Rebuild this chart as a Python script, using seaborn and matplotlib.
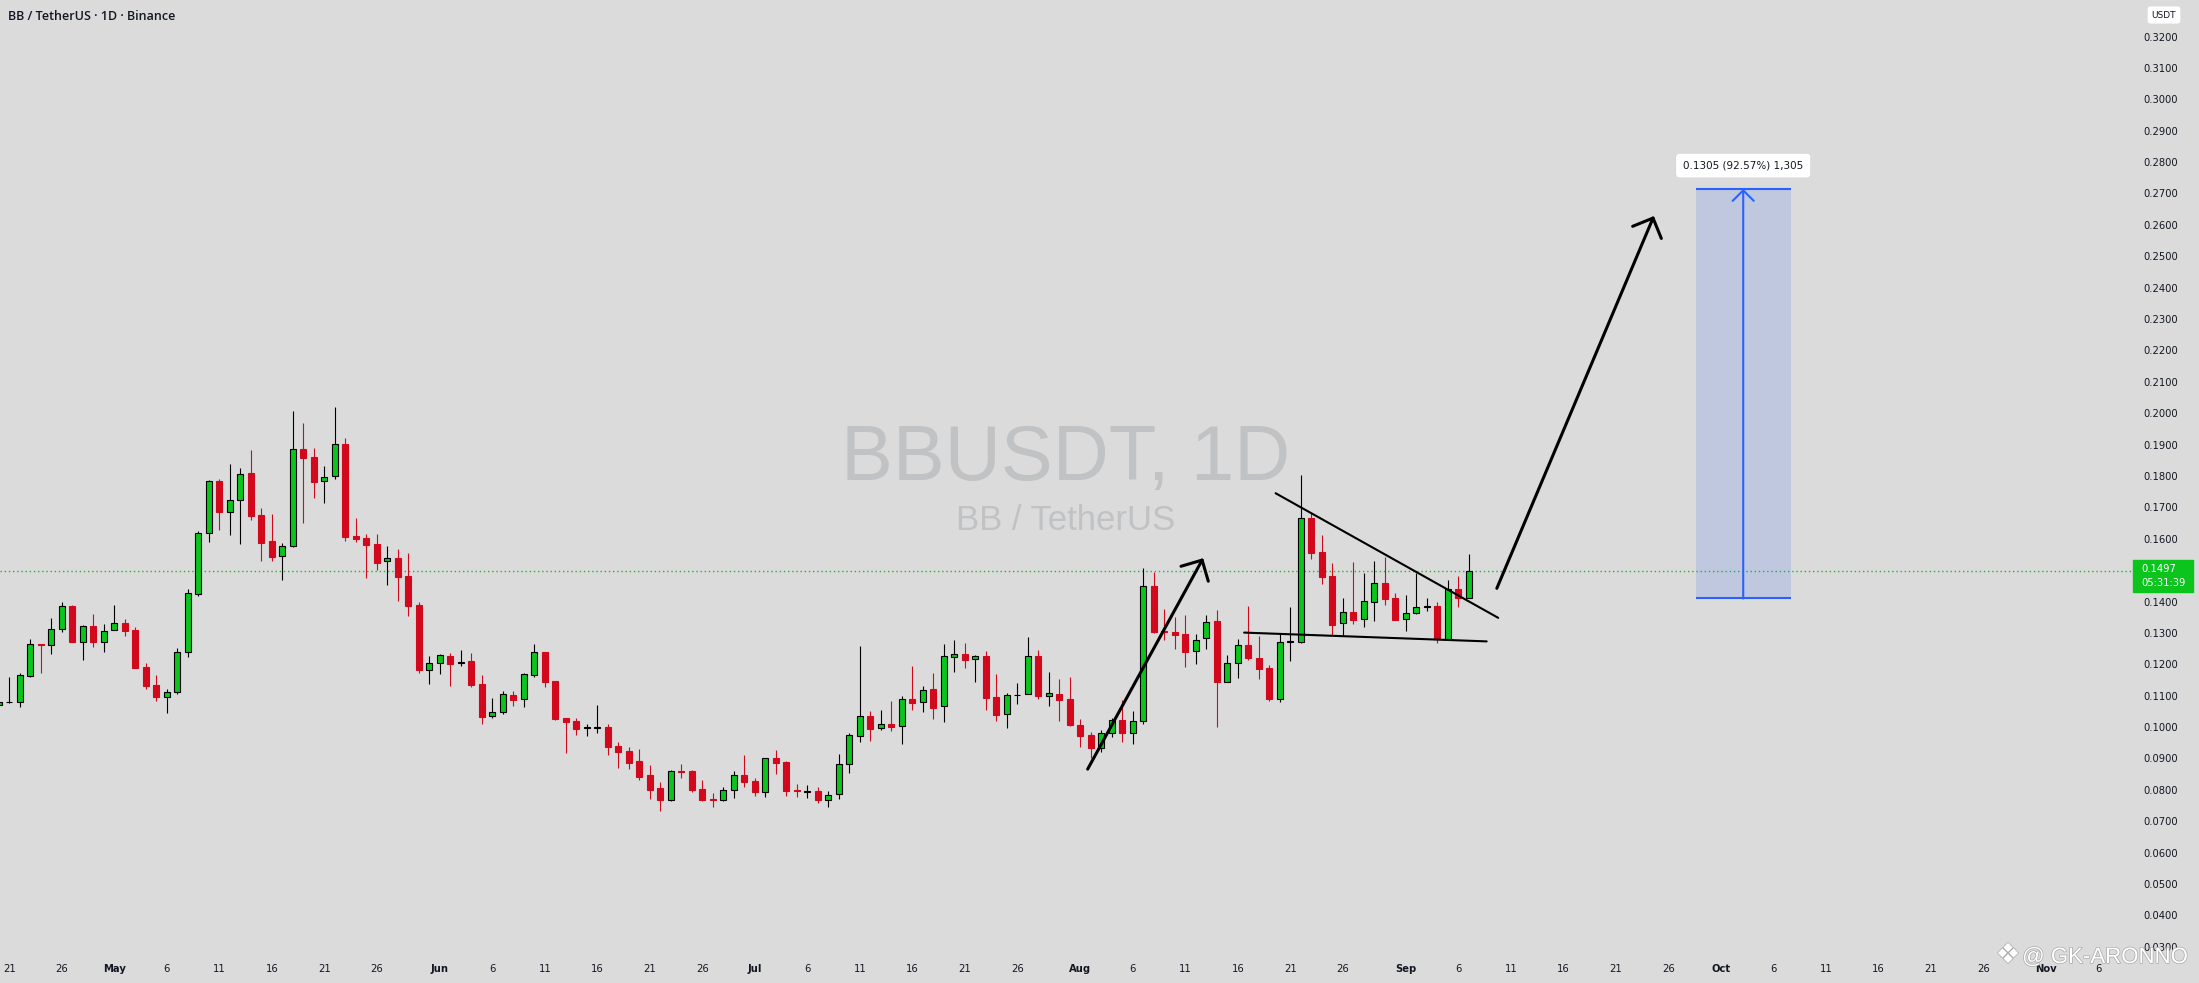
# BB / TetherUS daily candles with TradingView style drawings
# ==============================================================================

import numpy as np
import pandas as pd
import matplotlib
matplotlib.use("Agg")
import matplotlib.pyplot as plt
import matplotlib.dates as mdates
import matplotlib.patheffects as pe
from matplotlib.patches import Rectangle
import seaborn as sns


# Data
# ==============================================================================
dates = pd.date_range("2025-04-20", "2025-09-07", freq="D")

opens = [
    # Apr 20 - Apr 30
    0.1069, 0.1080, 0.1081, 0.1164, 0.1264, 0.1260, 0.1311, 0.1386, 0.1272, 0.1322, 0.1272,
    # May
    0.1308, 0.1332, 0.1309, 0.1191, 0.1134, 0.1097, 0.1111, 0.1238, 0.1423, 0.1617,
    0.1784, 0.1684, 0.1725, 0.1809, 0.1676, 0.1593, 0.1544, 0.1576, 0.1886, 0.1860,
    0.1783, 0.1799, 0.1902, 0.1609, 0.1601, 0.1583, 0.1528, 0.1538, 0.1480, 0.1389, 0.1183,
    # Jun
    0.1203, 0.1226, 0.1204, 0.1211, 0.1137, 0.1034, 0.1047, 0.1102, 0.1088, 0.1165,
    0.1239, 0.1147, 0.1029, 0.1019, 0.0998, 0.0998, 0.1000, 0.0940, 0.0924, 0.0892,
    0.0847, 0.0806, 0.0769, 0.0860, 0.0860, 0.0803, 0.0771, 0.0769, 0.0798, 0.0847,
    # Jul
    0.0828, 0.0794, 0.0900, 0.0889, 0.0800, 0.0794, 0.0795, 0.0769, 0.0786, 0.0881,
    0.0973, 0.1034, 0.0998, 0.1010, 0.1002, 0.1088, 0.1079, 0.1121, 0.1066, 0.1222,
    0.1232, 0.1216, 0.1226, 0.1096, 0.1041, 0.1101, 0.1106, 0.1225, 0.1098, 0.1105, 0.1089,
    # Aug
    0.1007, 0.0975, 0.0932, 0.0980, 0.1023, 0.0980, 0.1018, 0.1451, 0.1306, 0.1303,
    0.1297, 0.1241, 0.1283, 0.1337, 0.1143, 0.1203, 0.1260, 0.1219, 0.1187, 0.1091,
    0.1272, 0.1272, 0.1665, 0.1558, 0.1481, 0.1331, 0.1367, 0.1344, 0.1397, 0.1459, 0.1411,
    # Sep 1 - Sep 7
    0.1343, 0.1365, 0.1384, 0.1386, 0.1281, 0.1439, 0.1410,
]

closes = [
    0.1081, 0.1081, 0.1165, 0.1264, 0.1263, 0.1311, 0.1385, 0.1272, 0.1321, 0.1272, 0.1305,
    0.1331, 0.1307, 0.1189, 0.1132, 0.1097, 0.1111, 0.1238, 0.1426, 0.1617, 0.1783,
    0.1686, 0.1725, 0.1805, 0.1674, 0.1587, 0.1543, 0.1576, 0.1885, 0.1858, 0.1782,
    0.1796, 0.1901, 0.1607, 0.1600, 0.1581, 0.1524, 0.1538, 0.1479, 0.1387, 0.1183, 0.1203,
    0.1229, 0.1202, 0.1206, 0.1135, 0.1033, 0.1047, 0.1104, 0.1087, 0.1168, 0.1238,
    0.1145, 0.1027, 0.1017, 0.0995, 0.1000, 0.1000, 0.0938, 0.0922, 0.0887, 0.0842,
    0.0801, 0.0769, 0.0859, 0.0858, 0.0801, 0.0769, 0.0769, 0.0798, 0.0847, 0.0826,
    0.0794, 0.0900, 0.0887, 0.0797, 0.0795, 0.0796, 0.0769, 0.0783, 0.0881, 0.0974,
    0.1034, 0.0995, 0.1009, 0.1001, 0.1088, 0.1077, 0.1117, 0.1062, 0.1225, 0.1232,
    0.1215, 0.1225, 0.1094, 0.1040, 0.1101, 0.1103, 0.1225, 0.1100, 0.1107, 0.1087, 0.1007,
    0.0973, 0.0934, 0.0980, 0.1021, 0.0980, 0.1018, 0.1448, 0.1303, 0.1304, 0.1294,
    0.1240, 0.1279, 0.1334, 0.1143, 0.1203, 0.1260, 0.1221, 0.1186, 0.1091, 0.1270,
    0.1274, 0.1665, 0.1556, 0.1479, 0.1326, 0.1366, 0.1342, 0.1401, 0.1458, 0.1409, 0.1342,
    0.1362, 0.1382, 0.1386, 0.1281, 0.1439, 0.1410, 0.1497,
]

highs = [
    0.1086, 0.1161, 0.1171, 0.1281, 0.1265, 0.1347, 0.1398, 0.1389, 0.1325, 0.1360, 0.1328,
    0.1389, 0.1344, 0.1318, 0.1203, 0.1166, 0.1121, 0.1252, 0.1439, 0.1625, 0.1787,
    0.1790, 0.1838, 0.1825, 0.1883, 0.1698, 0.1679, 0.1585, 0.2007, 0.1969, 0.1889,
    0.1832, 0.2020, 0.1921, 0.1666, 0.1615, 0.1615, 0.1577, 0.1567, 0.1555, 0.1398, 0.1226,
    0.1233, 0.1236, 0.1246, 0.1236, 0.1166, 0.1093, 0.1115, 0.1115, 0.1173, 0.1265,
    0.1239, 0.1147, 0.1029, 0.1029, 0.1010, 0.1070, 0.1010, 0.0952, 0.0938, 0.0930,
    0.0879, 0.0825, 0.0863, 0.0882, 0.0863, 0.0831, 0.0790, 0.0809, 0.0860, 0.0911,
    0.0838, 0.0900, 0.0927, 0.0892, 0.0819, 0.0816, 0.0809, 0.0796, 0.0914, 0.0980,
    0.1258, 0.1051, 0.1054, 0.1083, 0.1099, 0.1195, 0.1131, 0.1172, 0.1265, 0.1277,
    0.1268, 0.1229, 0.1242, 0.1169, 0.1107, 0.1140, 0.1287, 0.1246, 0.1176, 0.1153, 0.1161,
    0.1026, 0.0984, 0.0991, 0.1029, 0.1086, 0.1051, 0.1506, 0.1493, 0.1376, 0.1350,
    0.1357, 0.1297, 0.1357, 0.1373, 0.1230, 0.1280, 0.1386, 0.1290, 0.1197, 0.1301,
    0.1383, 0.1803, 0.1681, 0.1612, 0.1522, 0.1410, 0.1527, 0.1492, 0.1529, 0.1542, 0.1426,
    0.1421, 0.1490, 0.1411, 0.1397, 0.1469, 0.1481, 0.1550,
]

lows = [
    0.1067, 0.1078, 0.1065, 0.1161, 0.1173, 0.1234, 0.1304, 0.1272, 0.1215, 0.1256, 0.1240,
    0.1308, 0.1291, 0.1189, 0.1122, 0.1084, 0.1046, 0.1104, 0.1224, 0.1419, 0.1591,
    0.1628, 0.1613, 0.1584, 0.1661, 0.1530, 0.1530, 0.1470, 0.1573, 0.1651, 0.1731,
    0.1715, 0.1791, 0.1594, 0.1591, 0.1476, 0.1500, 0.1454, 0.1403, 0.1355, 0.1173, 0.1138,
    0.1170, 0.1132, 0.1196, 0.1129, 0.1011, 0.1030, 0.1043, 0.1068, 0.1065, 0.1158,
    0.1129, 0.1024, 0.0918, 0.0976, 0.0973, 0.0982, 0.0912, 0.0871, 0.0868, 0.0833,
    0.0772, 0.0734, 0.0766, 0.0839, 0.0793, 0.0766, 0.0746, 0.0766, 0.0775, 0.0810,
    0.0781, 0.0778, 0.0852, 0.0781, 0.0778, 0.0775, 0.0759, 0.0746, 0.0772, 0.0855,
    0.0954, 0.0957, 0.0992, 0.0989, 0.0947, 0.1056, 0.1049, 0.1027, 0.1017, 0.1177,
    0.1189, 0.1145, 0.1056, 0.1020, 0.0998, 0.1075, 0.1106, 0.1091, 0.1068, 0.1020, 0.1003,
    0.0938, 0.0903, 0.0921, 0.0969, 0.0954, 0.0945, 0.1009, 0.1299, 0.1276, 0.1248,
    0.1192, 0.1200, 0.1250, 0.0999, 0.1143, 0.1157, 0.1215, 0.1154, 0.1084, 0.1081,
    0.1212, 0.1269, 0.1536, 0.1457, 0.1293, 0.1293, 0.1329, 0.1320, 0.1339, 0.1390, 0.1342,
    0.1307, 0.1359, 0.1371, 0.1267, 0.1280, 0.1384, 0.1410,
]

last_price = 0.1497
countdown = "05:31:39"

price_ticks = np.round(np.arange(0.03, 0.3201, 0.01), 2)

date_ticks = [
    "2025-04-21", "2025-04-26", "2025-05-01", "2025-05-06", "2025-05-11", "2025-05-16",
    "2025-05-21", "2025-05-26", "2025-06-01", "2025-06-06", "2025-06-11", "2025-06-16",
    "2025-06-21", "2025-06-26", "2025-07-01", "2025-07-06", "2025-07-11", "2025-07-16",
    "2025-07-21", "2025-07-26", "2025-08-01", "2025-08-06", "2025-08-11", "2025-08-16",
    "2025-08-21", "2025-08-26", "2025-09-01", "2025-09-06", "2025-09-11", "2025-09-16",
    "2025-09-21", "2025-09-26", "2025-10-01", "2025-10-06", "2025-10-11", "2025-10-16",
    "2025-10-21", "2025-10-26", "2025-11-01", "2025-11-06",
]
date_labels = [
    "21", "26", "May", "6", "11", "16", "21", "26", "Jun", "6", "11", "16", "21", "26",
    "Jul", "6", "11", "16", "21", "26", "Aug", "6", "11", "16", "21", "26", "Sep", "6",
    "11", "16", "21", "26", "Oct", "6", "11", "16", "21", "26", "Nov", "6",
]

# drawings (time, price)
upper_trend_t = ["2025-08-19 14:24", "2025-09-09 19:12"]
upper_trend_p = [0.1745, 0.1348]
lower_trend_t = ["2025-08-16 14:24", "2025-09-08 16:48"]
lower_trend_p = [0.1301, 0.1273]
small_arrow_t = ["2025-08-01 16:48", "2025-08-12 16:48"]
small_arrow_p = [0.0866, 0.1538]
big_arrow_t = ["2025-09-09 16:00", "2025-09-24 15:00"]
big_arrow_p = [0.1442, 0.2628]
measure_t = ["2025-09-28 14:24", "2025-10-07 16:00"]
measure_p = [0.14097, 0.27147]
measure_text = "0.1305 (92.57%) 1,305"


# Style
# ==============================================================================
BG = "#dbdbdb"
GREEN = "#0bc41c"
RED = "#d2091d"
BLUE = "#2962ff"
TXT = "#131722"

sns.set_style("white", {"axes.facecolor": BG, "figure.facecolor": BG})
plt.rcParams["font.family"] = ["DejaVu Sans"]

W, H = 2199, 983
fig = plt.figure(figsize=(W / 100, H / 100), dpi=100)
ax = fig.add_axes([0, 28 / H, 2132 / W, 955 / H])
ax.set_facecolor(BG)

x = mdates.date2num(dates)
o = np.array(opens)
c = np.array(closes)
up = c >= o

# Candles
# ==============================================================================
wick_colors = np.where(up, "black", RED)
ax.vlines(x, lows, highs, colors=wick_colors, linewidth=0.8, zorder=2)
ax.bar(
    x,
    c - o,
    bottom    = o,
    width     = 0.6,
    color     = np.where(up, GREEN, RED),
    edgecolor = np.where(up, "black", RED),
    linewidth = 0.8,
    zorder    = 3,
)

# last price line
ax.axhline(last_price, color=GREEN, linestyle=(0, (1, 2)), linewidth=1, zorder=1)

# Watermark
# ==============================================================================
ax.text(0.5, 1 - 480 / 955, "BBUSDT, 1D", transform=ax.transAxes, ha="center",
        va="baseline", fontsize=56, color="#c1c2c4", family="Liberation Sans", zorder=0)
ax.text(0.5, 1 - 530 / 955, "BB / TetherUS", transform=ax.transAxes, ha="center",
        va="baseline", fontsize=25, color="#c1c2c4", family="Liberation Sans", zorder=0)

# Drawings
# ==============================================================================
def tnum(ts):
    return mdates.date2num(pd.to_datetime(ts))

for tt, pp in [(upper_trend_t, upper_trend_p), (lower_trend_t, lower_trend_p)]:
    sns.lineplot(x=tnum(tt), y=pp, ax=ax, color="black", linewidth=1.5, zorder=4)

for tt, pp in [(small_arrow_t, small_arrow_p), (big_arrow_t, big_arrow_p)]:
    xs = tnum(tt)
    ax.annotate(
        "", xy=(xs[1], pp[1]), xytext=(xs[0], pp[0]),
        arrowprops=dict(arrowstyle="->, head_length=0.4, head_width=0.4",
                        color="black", lw=2.2, mutation_scale=28,
                        shrinkA=0, shrinkB=0),
        zorder=5,
    )

# price range measure
mx = tnum(measure_t)
mc = mx.mean()
ax.fill_between(mx, measure_p[0], measure_p[1], color=BLUE, alpha=0.15, linewidth=0, zorder=1)
ax.hlines(measure_p, mx[0], mx[1], colors=BLUE, linewidth=1.5, zorder=2)
ax.annotate(
    "", xy=(mc, measure_p[1]), xytext=(mc, measure_p[0]),
    arrowprops=dict(arrowstyle="->, head_length=0.4, head_width=0.4",
                    color=BLUE, lw=1.5, mutation_scale=19, shrinkA=0, shrinkB=0),
    zorder=3,
)
ax.text(mc, measure_p[1] + 0.0074, measure_text, ha="center", va="center",
        fontsize=7.5, color=TXT, zorder=6,
        bbox=dict(boxstyle="round,pad=0.7,rounding_size=0.4", fc="white", ec="#c8c8c8", lw=0.3))

# Axes
# ==============================================================================
x0 = mdates.date2num(pd.Timestamp("2025-04-21"))
ax.set_xlim(x0 - 0.886, x0 + 202.16)
ax.set_ylim(0.027392, 0.331628)

for s in ax.spines.values():
    s.set_visible(False)

ax.yaxis.tick_right()
ax.set_yticks(price_ticks)
ax.set_yticklabels([f"{v:.4f}" for v in price_ticks])
ax.tick_params(axis="y", length=0, pad=8, labelsize=7.2, labelcolor=TXT)

ax.set_xticks(tnum(date_ticks))
ax.set_xticklabels(date_labels)
ax.tick_params(axis="x", length=0, pad=6.5, labelsize=7.2, labelcolor=TXT)
for lab in ax.get_xticklabels():
    if lab.get_text().isalpha():
        lab.set_fontweight("bold")
ax.set_xlabel("")
ax.set_ylabel("")

# Header and right scale boxes
# ==============================================================================
fig.text(8 / W, 1 - 16 / H, "BB / TetherUS · 1D · Binance", ha="left", va="center",
         fontsize=9, fontweight="semibold", color=TXT, family="Open Sans")

fig.text(2164 / W, 1 - 15 / H, "USDT", ha="center", va="center", fontsize=6.5, color=TXT,
         bbox=dict(boxstyle="round,pad=0.45,rounding_size=0.3", fc="white", ec="none"))

fig.patches.append(Rectangle((2133 / W, 1 - 592 / H), 60 / W, 32 / H,
                             transform=fig.transFigure, color=GREEN, zorder=5))
fig.text(2141 / W, 1 - 569.5 / H, f"{last_price:.4f}", ha="left", va="center",
         fontsize=7.2, color="white", zorder=6)
fig.text(2141 / W, 1 - 582.5 / H, countdown, ha="left", va="center",
         fontsize=7.2, color="white", zorder=6)

# author mark
stroke = [pe.withStroke(linewidth=1, foreground="#a8a8a8")]
fig.text(2008 / W, 1 - 955 / H, "\u2756", ha="center", va="center", fontsize=20,
         color="white", path_effects=stroke, zorder=7)
fig.text(2188 / W, 1 - 963 / H, "@ GK-ARONNO", ha="right", va="baseline", fontsize=16,
         color="white", family="Liberation Sans", path_effects=stroke, zorder=7)

plt.savefig("out.png", dpi=100, facecolor=BG)
